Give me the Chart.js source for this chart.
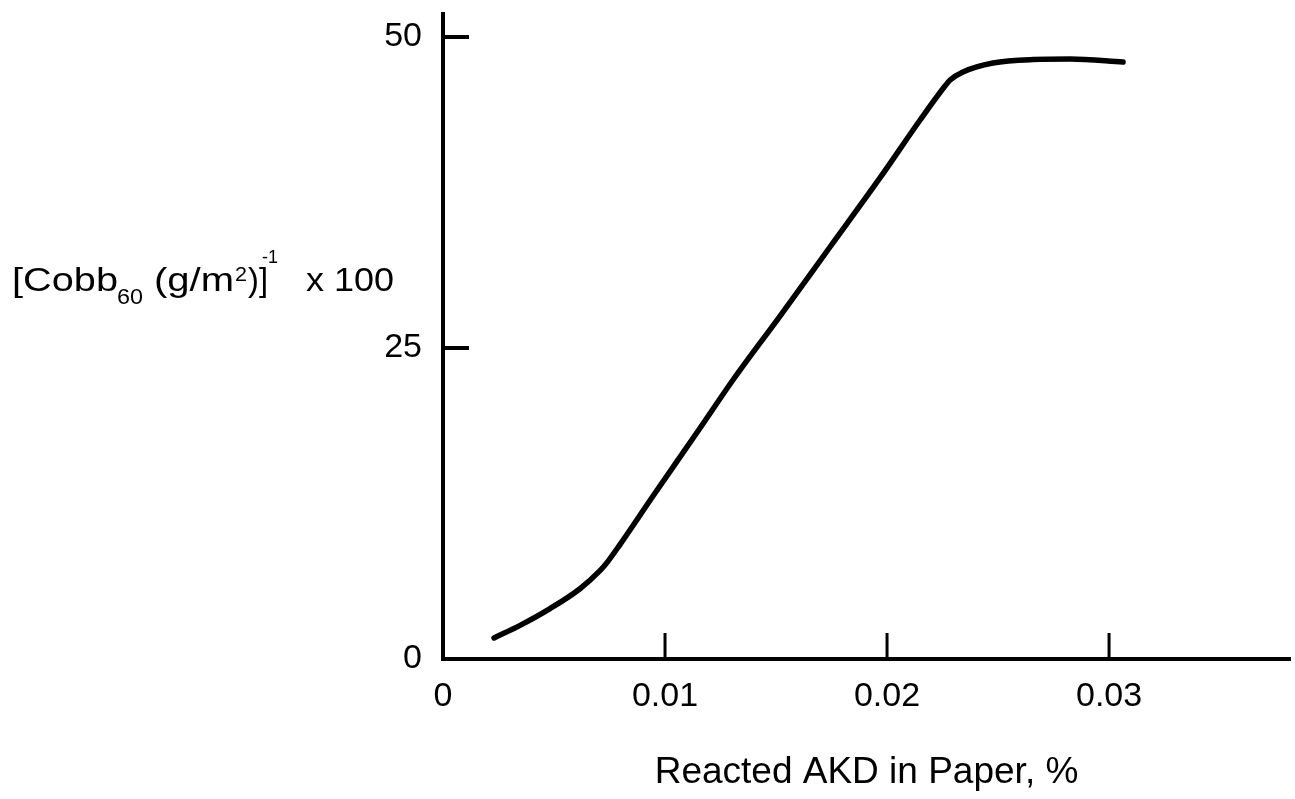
<!DOCTYPE html>
<html>
<head>
<meta charset="utf-8">
<script src="https://cdn.jsdelivr.net/npm/chart.js@4.4.1/dist/chart.umd.min.js"></script>
<style>
  html, body { margin: 0; padding: 0; background: #fff; }
  #wrap { width: 1295px; height: 799px; }
</style>
</head>
<body>
<div id="wrap"><canvas id="grafico"></canvas></div>
<script>
// valores (AKD reagido em %, inverso do Cobb60 x 100)
const akd = [0.0023, 0.00347, 0.00482, 0.00617, 0.00707, 0.00743, 0.00797, 0.00946, 0.01158, 0.01306,
             0.01518, 0.01743, 0.01968, 0.02149, 0.02261, 0.02284, 0.02342, 0.02477, 0.02658, 0.02824, 0.03063];
const cobbInv = [1.69, 2.7, 4.05, 5.65, 7.1, 7.85, 9.2, 13.1, 18.57, 22.43,
                 27.57, 33.12, 38.67, 43.33, 46.06, 46.54, 47.19, 47.91, 48.19, 48.23, 47.99];
const xTicks = [0, 0.01, 0.02, 0.03];
const yTicks = [0, 25, 50];

const fonte = "'Liberation Sans', Arial, Helvetica, sans-serif";

// desenha um texto esticado na horizontal para ocupar a largura pedida
function textoEsticado(ctx, t, x, y, tam, largura) {
    ctx.font = tam + 'px ' + fonte;
    const w = ctx.measureText(t).width;
    ctx.save();
    ctx.translate(x, y);
    ctx.scale(largura / w, 1);
    ctx.fillText(t, 0, 0);
    ctx.restore();
}

// Plugin para desenhar os tracinhos dos eixos (para dentro) e o titulo do eixo y
const extras = {
    id: 'extras',
    afterDraw(chart) {
        const ctx = chart.ctx;
        const xs = chart.scales.x;
        const ys = chart.scales.y;
        ctx.save();
        ctx.strokeStyle = '#000';
        ctx.lineCap = 'butt';
        // tracinhos do eixo y
        ctx.lineWidth = 4;
        yTicks.forEach(v => {
            if (v === 0) return;
            const py = ys.getPixelForValue(v);
            ctx.beginPath();
            ctx.moveTo(xs.left, py);
            ctx.lineTo(xs.left + 26, py);
            ctx.stroke();
        });
        // tracinhos do eixo x
        ctx.lineWidth = 3;
        xTicks.forEach(v => {
            if (v === 0) return;
            const px = xs.getPixelForValue(v);
            ctx.beginPath();
            ctx.moveTo(px, ys.bottom);
            ctx.lineTo(px, ys.bottom - 26);
            ctx.stroke();
        });

        // titulo do eixo y com subscrito e sobrescrito
        ctx.fillStyle = '#000';
        ctx.textBaseline = 'alphabetic';
        ctx.textAlign = 'left';
        textoEsticado(ctx, '[Cobb', 12, 291, 34, 106);
        textoEsticado(ctx, '60', 117, 304, 22, 26);
        textoEsticado(ctx, '(g/m', 154, 291, 34, 80);
        textoEsticado(ctx, '2', 235, 281, 21, 12);
        textoEsticado(ctx, ')]', 248, 291, 34, 20);
        textoEsticado(ctx, '-1', 262, 263, 19, 16);
        textoEsticado(ctx, 'x 100', 306, 291, 34, 88);
        ctx.restore();
    }
};

var div = document.getElementById('grafico');
const config = {
    type: 'line',
    data: {
        datasets: [{
            data: akd.map((v, i) => ({ x: v, y: cobbInv[i] })),
            borderColor: '#000',
            borderWidth: 5.5,
            pointRadius: 0,
            fill: false,
            cubicInterpolationMode: 'monotone',
            borderCapStyle: 'round'
        }]
    },
    options: {
        responsive: true,
        maintainAspectRatio: false,
        animation: false,
        layout: { padding: { top: 14, right: 5, bottom: 0, left: 0 } },
        plugins: { legend: { display: false }, tooltip: { enabled: false } },
        scales: {
            x: {
                type: 'linear',
                min: 0,
                max: 0.03815,
                grid: { display: false },
                border: { display: true, color: '#000', width: 4 },
                afterBuildTicks: s => { s.ticks = xTicks.map(v => ({ value: v })); },
                afterFit: s => { s.height = 140; s.paddingLeft = 0; s.paddingRight = 0; },
                ticks: {
                    color: '#000',
                    padding: 9,
                    font: { size: 34, family: fonte },
                    callback: v => String(v)
                },
                title: {
                    display: true,
                    text: 'Reacted AKD in Paper, %',
                    color: '#000',
                    font: { size: 37, family: fonte },
                    padding: { top: 0, bottom: 4 }
                }
            },
            y: {
                type: 'linear',
                min: 0,
                max: 51.85,
                grid: { display: false },
                border: { display: true, color: '#000', width: 4 },
                afterBuildTicks: s => { s.ticks = yTicks.map(v => ({ value: v })); },
                afterFit: s => { s.width = 443; s.paddingTop = 0; s.paddingBottom = 0; },
                ticks: {
                    color: '#000',
                    padding: 13,
                    font: { size: 34, family: fonte }
                }
            }
        }
    },
    plugins: [extras]
};
const myChart = new Chart(div, config);
</script>
</body>
</html>
